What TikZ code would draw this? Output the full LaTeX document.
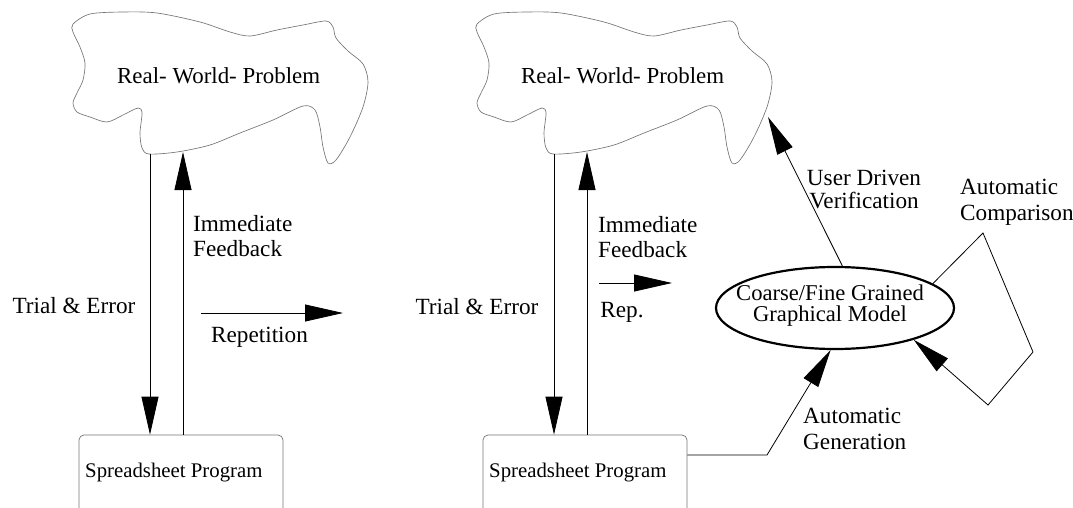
\documentclass[tikz,border=0pt]{standalone}
\usepackage{fontspec}
\setmainfont{Liberation Serif}
\usetikzlibrary{arrows.meta,shapes.geometric}
\tikzset{
  arr/.style={draw=black, line width=0.8pt, -{Triangle[length=38pt,width=17pt]}},
  cloudline/.style={draw=black!55, line width=0.65pt},
  boxline/.style={draw=black!55, line width=0.7pt, rounded corners=5pt},
  lbl/.style={inner sep=0pt, align=left, font=\fontsize{23.2}{25}\selectfont},
  cloudtext/.style={inner sep=0pt, font=\fontsize{22.9}{25}\selectfont},
  boxtext/.style={inner sep=0pt, font=\fontsize{20.8}{24}\selectfont},
  cloud/.pic={
    \draw[cloudline] plot[smooth cycle, tension=0.5] coordinates {
      (73,24) (90,14) (123,12) (157,13) (200,22) (230,32) (250,36) (277,30)
      (303,25) (326,21) (333,27) (336,38) (348,51) (363,64) (368,82) (363,107)
      (350,137) (336,160) (328,163) (323,147) (320,127) (315,110) (303,106)
      (273,120) (240,133) (210,145) (177,152) (149,154) (142,148) (140,133)
      (142,113) (138,108) (123,115) (107,122) (90,117) (77,112) (73,103)
      (77,93) (83,80) (85,63) (80,47) (73,32)};
  }
}
\begin{document}
\begin{tikzpicture}[x=1pt,y=-1pt]
\useasboundingbox (0,0) rectangle (1073,508);
\clip (0,0) rectangle (1073,508);

% ---------- left panel ----------
\pic at (0,0) {cloud};
\node[cloudtext, anchor=west] (rwp1) at (117,76) {Real- World- Problem};
\node[boxline, draw, minimum width=204pt, minimum height=110pt] (box1) at (181,490) {};
\node[boxtext, anchor=west] (sp1) at (85,473) {Spreadsheet Program};
\coordinate (c1a) at (150,154);
\coordinate (c1b) at (183,152);
\draw[arr] (c1a) -- (c1a |- box1.north);
\draw[arr] (c1b |- box1.north) -- (c1b);
\node[lbl] (te1) at (74,306) {Trial \& Error};
\node[lbl, anchor=west] (if1) at (193,236.5) {Immediate\\Feedback};
\coordinate (rep1a) at (201,313);
\coordinate (rep1b) at (343,313);
\draw[arr] (rep1a) -- (rep1b);
\node[lbl] (rp1) at (259.5,337) {Repetition};

% ---------- right panel ----------
\pic at (404,0) {cloud};
\node[cloudtext, anchor=west] (rwp2) at (521,76) {Real- World- Problem};
\node[boxline, draw, minimum width=204pt, minimum height=110pt] (box2) at (585,490) {};
\node[boxtext, anchor=west] (sp2) at (489,473) {Spreadsheet Program};
\coordinate (c2a) at (554,154);
\coordinate (c2b) at (587,152);
\draw[arr] (c2a) -- (c2a |- box2.north);
\draw[arr] (c2b |- box2.north) -- (c2b);
\node[lbl] (te2) at (477,307) {Trial \& Error};
\node[lbl, anchor=west] (if2) at (598,237) {Immediate\\Feedback};
\coordinate (rep2a) at (599,283);
\coordinate (rep2b) at (672,283);
\draw[arr] (rep2a) -- (rep2b);
\node[lbl] (rp2) at (622,312) {Rep.};

% ellipse
\node[ellipse, draw, line width=2.2pt, minimum width=238pt, minimum height=82pt, inner sep=0pt] (ell) at (835,308) {};
\node[inner sep=0pt, align=center, font=\fontsize{22.6}{21}\selectfont] (elltext) at (830,306) {Coarse/Fine Grained\\Graphical Model};

% user driven verification
\coordinate (udv) at (768,117);
\draw[arr] (ell.80) -- (udv);
\node[inner sep=0pt, align=center, font=\fontsize{23.2}{23}\selectfont] (udvt) at (864,189) {User Driven\\Verification};

% automatic generation
\coordinate (genA) at (767,455);
\draw[arr] (box2.east |- genA) -- (genA) -- (ell.-96);
\node[lbl, anchor=west, font=\fontsize{23.2}{26}\selectfont] (gent) at (803,429) {Automatic\\Generation};

% automatic comparison
\coordinate (cmpA) at (983,233);
\coordinate (cmpB) at (1033,352);
\coordinate (cmpC) at (988,405);
\draw[arr] (ell.14) -- (cmpA) -- (cmpB) -- (cmpC) -- (ell.-22);
\node[lbl, anchor=west, font=\fontsize{23.2}{26}\selectfont] (cmpt) at (960,202) {Automatic\\Comparison};
\end{tikzpicture}
\end{document}
